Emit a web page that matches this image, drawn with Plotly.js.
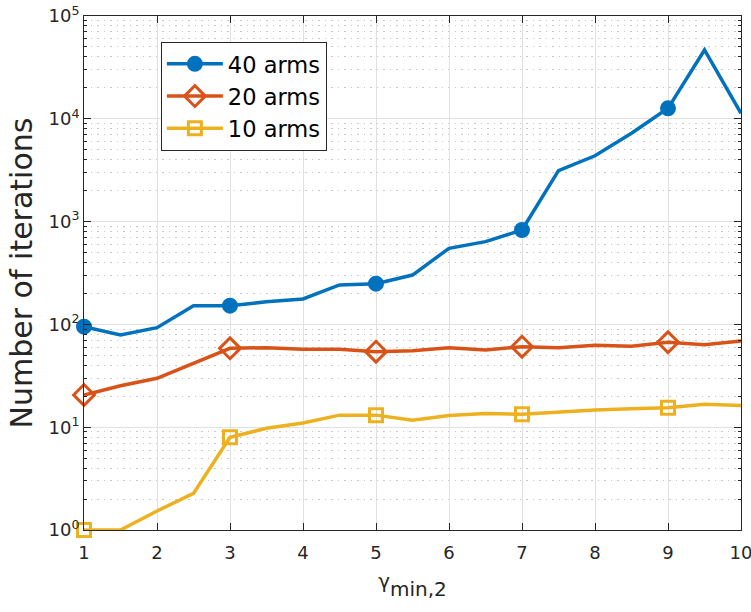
<!DOCTYPE html>
<html>
<head>
<meta charset="utf-8">
<script src="https://cdn.plot.ly/plotly-3.0.1.min.js"></script>
<style>html,body{margin:0;padding:0;background:#fff;}#chart{width:751px;height:612px;}</style>
</head>
<body>
<div id="chart"></div>
<script>
const gammaVals = [1, 1.5, 2, 2.5, 3, 3.5, 4, 4.5, 5, 5.5, 6, 6.5, 7, 7.5, 8, 8.5, 9, 9.5, 10];
const arms40 = [95, 79, 93, 152, 152, 166, 177, 242, 249, 302, 550, 638, 828, 3130, 4370, 7230, 12650, 46700, 11300];
const arms20 = [20.6, 25.3, 29.9, 41.8, 58.5, 59.4, 57.2, 57.2, 54.3, 55.5, 59.4, 56.4, 60.7, 59.4, 62.6, 61.2, 67, 63.5, 69];
const arms10 = [1.0, 1.0, 1.53, 2.27, 7.98, 9.76, 11.0, 13.1, 13.1, 11.7, 13.0, 13.6, 13.4, 14.1, 14.7, 15.1, 15.5, 16.7, 16.3];
const seriesNames = ['40 arms', '20 arms', '10 arms'];
const markerIdx = [0, 4, 8, 12, 16];
const xTickVals = [1, 2, 3, 4, 5, 6, 7, 8, 9, 10];
const yTickVals = [1, 10, 100, 1000, 10000, 100000];
const yTickText = ['10<sup>0</sup>', '10<sup>1</sup>', '10<sup>2</sup>', '10<sup>3</sup>', '10<sup>4</sup>', '10<sup>5</sup>'];

const colors = ['#0072BD', '#D95319', '#EDB120'];
const symbols = ['circle', 'diamond-open', 'square-open'];
const sizes = [13, 16, 13];
function markColors(c) {
  return gammaVals.map((g, i) => markerIdx.includes(i) ? c : 'rgba(0,0,0,0)');
}
const data = [arms40, arms20, arms10].map((ys, k) => ({
  x: gammaVals, y: ys, name: seriesNames[k], type: 'scatter', mode: 'lines+markers',
  cliponaxis: false,
  line: {color: colors[k], width: 3.5},
  marker: {symbol: symbols[k], color: markColors(colors[k]), size: sizes[k], opacity: 1,
           line: {color: markColors(colors[k]), width: 3}},
}));

const axisCol = '#262626';
const FONT = 'DejaVu Sans, sans-serif';
const layout = {
  width: 751, height: 612,
  margin: {l: 84, r: 10, t: 16, b: 82},
  paper_bgcolor: '#fff', plot_bgcolor: '#fff',
  font: {family: FONT, color: axisCol},
  showlegend: true,
  legend: {
    x: 0.117, y: 0.95, xanchor: 'left', yanchor: 'top',
    bgcolor: '#fff', bordercolor: axisCol, borderwidth: 1,
    font: {size: 22.5, color: '#000', family: FONT}, tracegroupgap: 0, itemwidth: 56,
  },
  xaxis: {
    range: [1, 10], tickmode: 'array', tickvals: xTickVals,
    showline: true, linecolor: axisCol, linewidth: 1, mirror: 'ticks',
    ticks: 'inside', ticklen: 7, tickcolor: axisCol, ticklabelstandoff: 6,
    ticklabeloverflow: 'allow',
    showgrid: true, gridcolor: '#e1e1e1', gridwidth: 1, zeroline: false,
    tickfont: {size: 18, color: axisCol},
    title: {text: '<sup><span style="font-size:20px">γ</span></sup>min,2', font: {size: 20, color: axisCol}, standoff: 20},
  },
  yaxis: {
    type: 'log', range: [0, 5], tickmode: 'array', tickvals: yTickVals, ticktext: yTickText,
    showline: true, linecolor: axisCol, linewidth: 1, mirror: 'ticks',
    ticks: 'inside', ticklen: 7, tickcolor: axisCol, ticklabeloverflow: 'allow',
    showgrid: true, gridcolor: '#e1e1e1', gridwidth: 1, zeroline: false,
    tickfont: {size: 18, color: axisCol},
    minor: {dtick: 'D1', ticks: 'inside', ticklen: 3, tickcolor: axisCol, showgrid: true, gridcolor: '#c8c8c8', griddash: '1.5px,5px', gridwidth: 1},
    title: {text: 'Number of iterations', font: {size: 30, color: axisCol}, standoff: 6},
  },
};
Plotly.newPlot('chart', data, layout, {displayModeBar: false, staticPlot: true});
</script>
</body>
</html>
